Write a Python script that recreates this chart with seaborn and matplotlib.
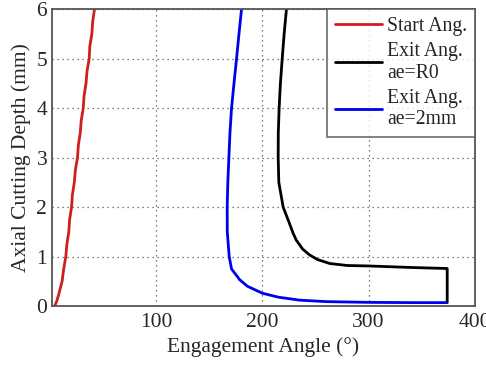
import matplotlib
matplotlib.use("Agg")
import matplotlib.pyplot as plt
import seaborn as sns
import pandas as pd

# Start angle series
start_depth = [0, 0.1, 0.25, 0.5, 0.75, 1.0, 1.25, 1.5, 1.75, 2.0, 2.25, 2.5, 2.75,
               3.0, 3.25, 3.5, 3.75, 4.0, 4.25, 4.5, 4.75, 5.0, 5.25, 5.5, 5.75, 6.0]
start_angle = [4.5, 6.5, 8.5, 11.5, 13.0, 15.0, 16.0, 17.8, 18.6, 20.4, 21.2, 23.0, 24.0,
               26.0, 26.8, 28.6, 29.5, 31.4, 32.2, 34.0, 35.0, 37.0, 37.6, 39.5, 40.3, 42.0]

# Exit angle ae=R0
exit_r0_angle = [222.7, 220.5, 218.7, 217.0, 215.8, 215.0, 214.9, 215.5, 219.6, 225.0, 229.0,
                 232.0, 238.0, 244.7, 252.0, 263.5, 280.0, 301.0, 340.0, 373.0, 374.0, 374.0]
exit_r0_depth = [6.0, 5.5, 5.0, 4.5, 4.0, 3.5, 3.0, 2.5, 2.0, 1.7, 1.47,
                 1.33, 1.15, 1.03, 0.94, 0.86, 0.82, 0.81, 0.78, 0.76, 0.76, 0.07]

# Exit angle ae=2mm
exit_2mm_angle = [180.4, 178.0, 175.7, 173.3, 171.0, 169.5, 168.5, 167.5, 166.9, 167.0, 168.8,
                  171.0, 178.8, 186.0, 200.0, 215.0, 235.0, 260.0, 300.0, 340.0, 373.0]
exit_2mm_depth = [6.0, 5.5, 5.0, 4.5, 4.0, 3.5, 3.0, 2.5, 2.0, 1.5, 1.0,
                  0.75, 0.53, 0.4, 0.26, 0.18, 0.12, 0.09, 0.075, 0.07, 0.07]

series_labels = ["Start Ang.", "Exit Ang.\nae=R0", "Exit Ang.\nae=2mm"]
series_colors = ["#CC1F1F", "#000000", "#0000F0"]

x_ticks = [100, 200, 300, 400]
y_ticks = [0, 1, 2, 3, 4, 5, 6]

frames = []
for lab, xs, ys in zip(series_labels,
                       [start_angle, exit_r0_angle, exit_2mm_angle],
                       [start_depth, exit_r0_depth, exit_2mm_depth]):
    frames.append(pd.DataFrame({"angle": xs, "depth": ys, "series": lab,
                                "order": range(len(xs))}))
df = pd.concat(frames, ignore_index=True)

sns.set_style("white")
plt.rcParams["font.family"] = ["Liberation Serif", "DejaVu Serif"]

fig = plt.figure(figsize=(4.86, 3.67), dpi=100)
ax = fig.add_axes([0.107, 0.166, 0.870, 0.809])

for lab, col in zip(series_labels, series_colors):
    sub = df[df["series"] == lab]
    sns.lineplot(data=sub, x="angle", y="depth", sort=False, estimator=None,
                 color=col, linewidth=2.0, label=lab, ax=ax)

ax.set_xlim(2, 400)
ax.set_ylim(0, 6)
ax.set_xticks(x_ticks)
ax.set_yticks(y_ticks)
ax.tick_params(axis="both", labelsize=15.5, direction="in", length=3, color="#444444")
ax.tick_params(axis="x", pad=5)
ax.grid(True, linestyle=(0, (1, 3)), color="#555555", linewidth=0.9)
for s in ax.spines.values():
    s.set_color("#555555")
    s.set_linewidth(1.3)
ax.set_xlabel("Engagement Angle (°)", fontsize=15.5, labelpad=4)
ax.set_ylabel("Axial Cutting Depth (mm)", fontsize=15.5, labelpad=4)

leg = ax.legend(loc="upper right", bbox_to_anchor=(1, 1), borderaxespad=0,
                fontsize=14.2, frameon=True, fancybox=False, edgecolor="#555555",
                handlelength=2.4, labelspacing=0.3, handletextpad=0.25,
                borderpad=0.4)
leg.get_frame().set_linewidth(1.3)

fig.savefig("out.png", dpi=100)
